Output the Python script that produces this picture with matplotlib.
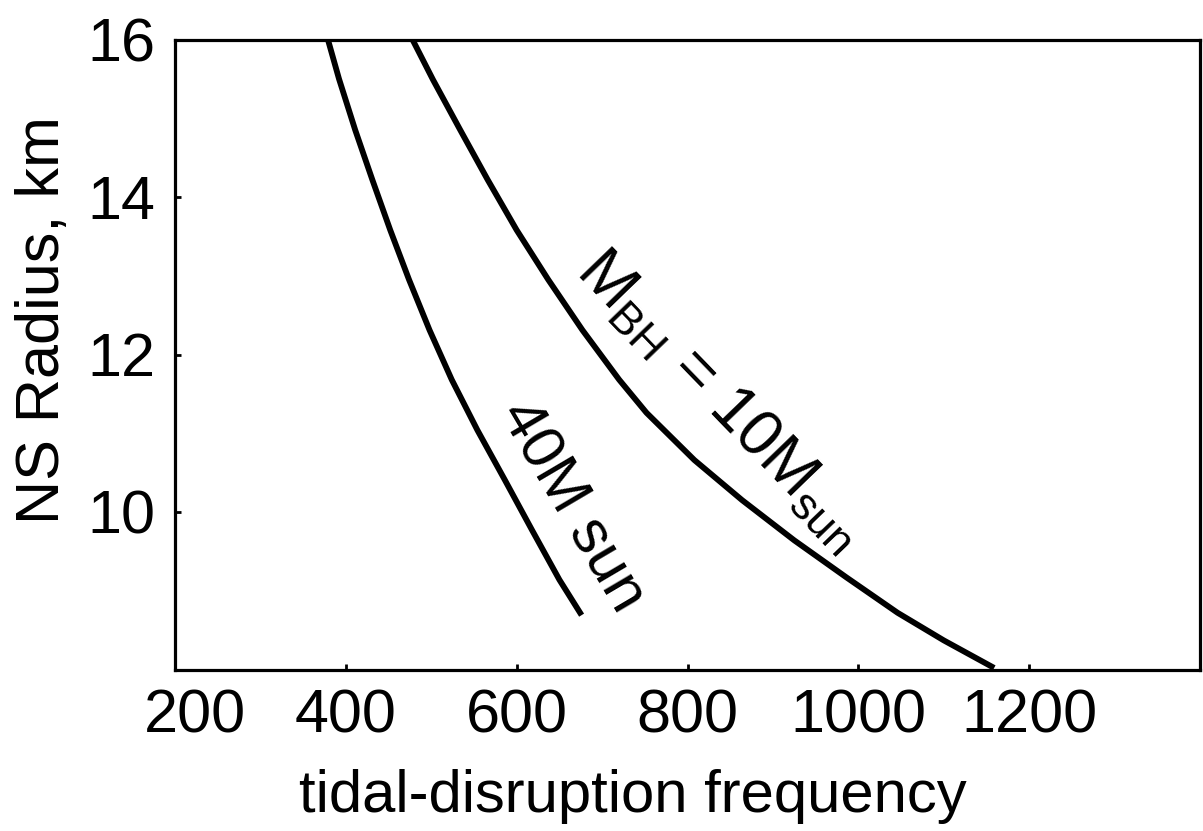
import numpy as np
import matplotlib
matplotlib.use("Agg")
import matplotlib.pyplot as plt
from matplotlib.transforms import ScaledTranslation

# NS radius (km) and tidal-disruption frequency
radius_40 = [16.0, 15.5, 14.85, 14.22, 13.58, 12.95, 12.31, 11.68, 11.04, 10.41, 9.77, 9.14, 8.69]
freq_40 = [379, 392, 411, 431, 452, 474, 498, 524, 554, 586, 618, 650, 676]

radius_10 = [16.0, 15.49, 14.85, 14.22, 13.58, 12.95, 12.31, 11.68, 11.26, 10.66, 10.15, 9.64, 9.17, 8.72, 8.37, 8.02]
freq_10 = [478, 502, 534, 566, 600, 637, 677, 720, 752, 808, 864, 925, 986, 1046, 1100, 1159]

x_ticks = [200, 400, 600, 800, 1000, 1200]
y_ticks = [10, 12, 14, 16]

plt.rcParams['font.family'] = ['Liberation Sans', 'DejaVu Sans']
plt.rcParams['mathtext.default'] = 'regular'

fig = plt.figure(figsize=(12.03, 8.31), dpi=100)
ax = fig.add_axes([175 / 1203, 1 - 669.5 / 831, 1025 / 1203, 630 / 831])

ax.plot(freq_40, radius_40, color='black', lw=4.2, solid_capstyle='butt')
ax.plot(freq_10, radius_10, color='black', lw=4.2, solid_capstyle='butt')

ax.set_xlim(200, 1400)
ax.set_ylim(8, 16)
ax.set_xticks(x_ticks)
ax.set_yticks(y_ticks)
ax.tick_params(direction='in', length=4.5, width=2, labelsize=44, pad=14)
ax.tick_params(axis='x', pad=14)
for s in ax.spines.values():
    s.set_linewidth(2.3)

# first x label sits a bit right of its tick in the original
lab0 = ax.get_xticklabels()[0]
lab0.set_transform(lab0.get_transform() + ScaledTranslation(0.2, 0, fig.dpi_scale_trans))

ax.set_xlabel('tidal-disruption frequency', fontsize=43)
ax.xaxis.set_label_coords(0.447, -0.158)
ax.set_ylabel('NS Radius, km', fontsize=44)
ax.yaxis.set_label_coords(-0.1, 0.555)

ax.text(840, 11.42, r'M$_{BH}$ = 10M$_{sun}$', fontsize=46, rotation=-46,
        ha='center', va='center', rotation_mode='anchor')
ax.text(664, 10.06, '40M sun', fontsize=44, rotation=-59.5,
        ha='center', va='center', rotation_mode='anchor')

fig.savefig('out.png', dpi=100)
